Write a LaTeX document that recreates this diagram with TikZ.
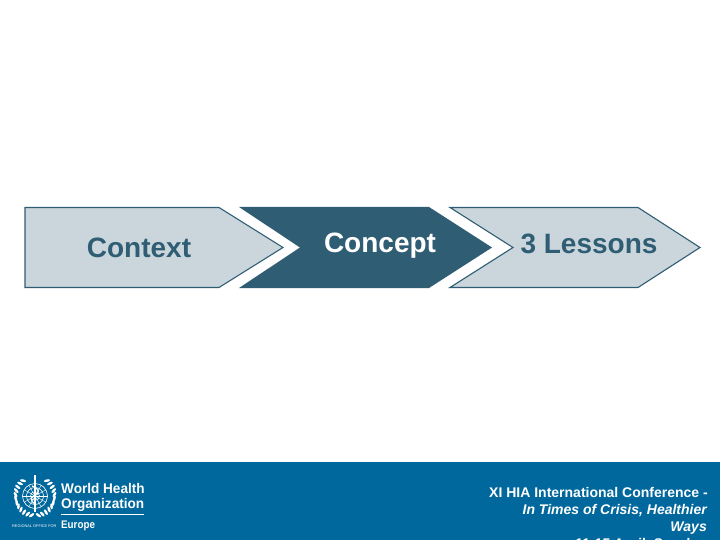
\documentclass[tikz,border=0pt]{standalone}
\usepackage{fontspec}
\setmainfont{Liberation Sans}
\definecolor{barblue}{HTML}{00689D}
\definecolor{darkteal}{HTML}{2F5D73}
\definecolor{paleteal}{HTML}{CBD6DC}
\tikzset{
  chevpale/.style={draw=darkteal,fill=paleteal,line width=1.1pt,line join=miter},
  chevdark/.style={draw=none,fill=darkteal},
  chevlabel/.style={font=\bfseries\fontsize{28}{32}\selectfont,inner sep=0pt,anchor=base},
  footline/.style={font=\bfseries\fontsize{14}{17}\selectfont,text=white,anchor=base east,inner sep=0pt},
  footital/.style={footline,font=\bfseries\itshape\fontsize{14}{17}\selectfont},
  logoline/.style={white,line width=0.6pt},
  logoname/.style={text=white,inner sep=0pt,anchor=base west,font=\bfseries\fontsize{14}{16}\selectfont,xscale=0.97},
  leaf/.style={white,fill=white}
}
\begin{document}
\begin{tikzpicture}[x=1pt,y=-1pt]
\useasboundingbox (0,0) rectangle (720,540);
\clip (0,0) rectangle (720,540);
\fill[white] (0,0) rectangle (720,540);
% chevrons
\draw[chevpale] (25,207.5) -- (219,207.5) -- (283,247.5) -- (219,287.5) -- (25,287.5) -- cycle;
\fill[chevdark] (239,207) -- (429,207) -- (492,247.5) -- (429,288) -- (239,288) -- (300,247.5) -- cycle;
\draw[chevpale] (450,207.5) -- (638,207.5) -- (700,247.5) -- (638,287.5) -- (450,287.5) -- (513,247.5) -- cycle;
\node[chevlabel,text=darkteal] (ctx) at (139,258) {Context};
\node[chevlabel,text=white] (con) at (380,252) {Concept};
\node[chevlabel,text=darkteal] (les) at (589,253) {3 Lessons};
% footer
\fill[barblue] (0,462) rectangle (720,540);
\node[footline] (f1) at (708,497) {XI HIA International Conference -};
\node[footital] (f2) at (707,514) {In Times of Crisis, Healthier};
\node[footital] (f3) at (707,531) {Ways};
\node[footline] (f4) at (707,548) {11-15 April, Sweden};
% logo emblem
\begin{scope}[shift={(35,496)}]
  \foreach \r in {4.5,8.5,12.5} \draw[logoline] (0,0) circle (\r);
  \foreach \a in {0,30,...,150} \draw[logoline,line width=0.4pt] (\a:12.5) -- (\a+180:12.5);
  \draw[white,line width=1.4pt] (0,-21) -- (0,16);
  \draw[white,line width=1.2pt] (-3,-10) .. controls (5,-7) and (5,-3) .. (0,-1) .. controls (-5,1) and (-5,5) .. (0,8);
  \foreach \a in {100,112,...,232} {
    \fill[leaf] (\a:19.5) ellipse [x radius=1.3,y radius=3.1,rotate=\a+25];
  }
  \foreach \a in {-52,-40,...,80} {
    \fill[leaf] (\a:19.5) ellipse [x radius=1.3,y radius=3.1,rotate=\a-25];
  }
\end{scope}
% logo text
\node[logoname] (w1) at (61,493) {World Health};
\node[logoname] (w2) at (61,508) {Organization};
\draw[white,line width=0.6pt] (61,514) -- (144,514);
\node[logoname,font=\bfseries\fontsize{11}{13}\selectfont,xscale=0.92] (w3) at (61,528) {Europe};
\node[text=white,inner sep=0pt,anchor=base west,font=\fontsize{3.85}{4}\selectfont] (w4) at (12,527) {REGIONAL OFFICE FOR};
\end{tikzpicture}
\end{document}
